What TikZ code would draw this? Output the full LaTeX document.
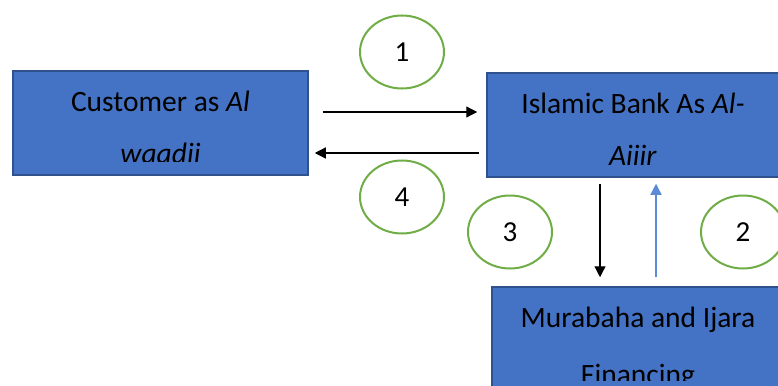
\documentclass[tikz,border=0pt]{standalone}
\usepackage{fontspec}
\setmainfont{Carlito}
\usetikzlibrary{positioning, shapes.geometric, arrows.meta}
\definecolor{boxblue}{HTML}{4472C4}
\definecolor{boxedge}{HTML}{2F528F}
\definecolor{ringgreen}{HTML}{70AD47}
\definecolor{upblue}{HTML}{5B8BD5}
\tikzstyle{box}=[draw=boxedge,fill=boxblue,line width=1.5pt,minimum height=104pt,inner sep=0pt]
\tikzstyle{txt}=[font=\fontsize{29.5}{52}\selectfont,align=center,inner sep=0pt,anchor=base]
\tikzstyle{num}=[ellipse,draw=ringgreen,line width=2pt,minimum width=84pt,minimum height=73pt,font=\fontsize{29}{35}\selectfont]
\tikzstyle{flow}=[-{Triangle[length=11pt,width=11pt]},line width=1.2pt]
\tikzstyle{flowB}=[flow,upblue]

\begin{document}
\begin{tikzpicture}[x=1pt,y=-1pt]
    \useasboundingbox (0,0) rectangle (778,385);
    \clip (0,0) rectangle (778,385);
    \node[box,minimum width=295pt] (cust) at (160.5,123) {};
    \node[box,minimum width=292pt] (bank) at (633,125) {};
    \node[box,minimum width=292pt] (mur) at (638,339) {};
    % text sits on the last line's baseline, cut off like the text frames
    \begin{scope}
        \clip (13,71) rectangle (308,161.5);
        \node[txt] (custtxt) at (160.5,163) {Customer as \textit{Al}\\\textit{waadii}};
    \end{scope}
    \begin{scope}
        \clip (487,73) rectangle (779,164);
        \node[txt] (banktxt) at (633,165.5) {Islamic Bank As \textit{Al-}\\\textit{Aiiir}};
    \end{scope}
    \begin{scope}
        \clip (492,287) rectangle (779,380);
        \node[txt] (murtxt) at (638,384) {Murabaha and Ijara\\[5pt]Financing};
    \end{scope}
    \node[num] (n1) at (402,52) {1};
    \node[num] (n4) at (402,197) {4};
    \node[num] (n3) at (510,232) {3};
    \node[num] (n2) at (743,232) {2};
    \draw[flow,shorten <=14pt,shorten >=9pt] ([yshift=11pt]cust.east) -- ([yshift=11pt]cust.east -| bank.west);
    \draw[flow,shorten <=7pt,shorten >=6pt] ([yshift=-30pt]cust.east -| bank.west) -- ([yshift=-30pt]cust.east);
    \draw[flow,shorten <=6pt,shorten >=9pt] ([xshift=-33pt]bank.south) -- ([xshift=-33pt]bank.south |- mur.north);
    \draw[flowB,shorten <=9pt,shorten >=6pt] ([xshift=18pt]mur.north) -- ([xshift=18pt]mur.north |- bank.south);
\end{tikzpicture}
\end{document}
